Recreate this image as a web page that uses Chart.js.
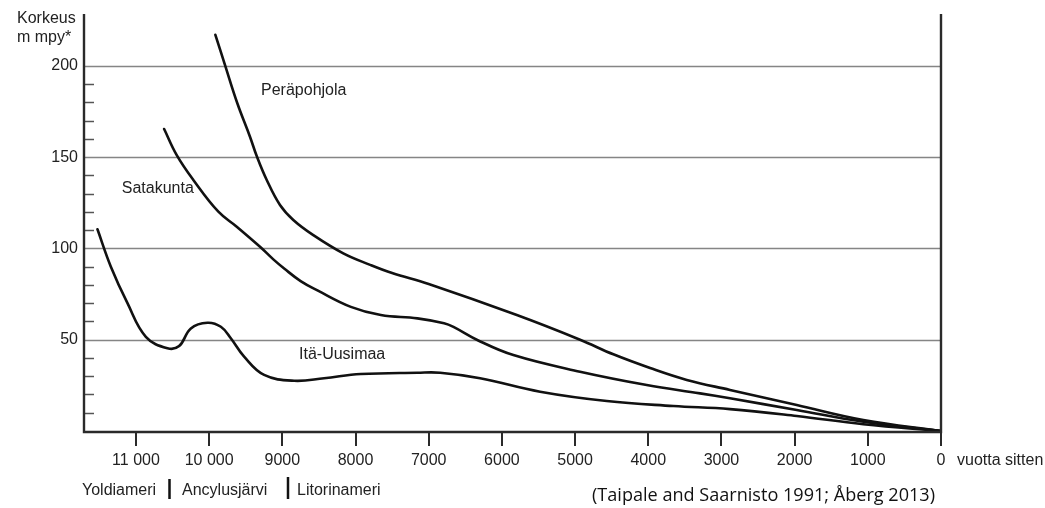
<!DOCTYPE html>
<html>
<head>
<meta charset="utf-8">
<script src="https://cdn.jsdelivr.net/npm/chart.js@4/dist/chart.umd.min.js"></script>
<style>
  html, body { margin: 0; padding: 0; background: #fff; }
  canvas { display: block; }
</style>
</head>
<body>
<canvas id="c" width="1045" height="508"></canvas>
<script>
// ---- Data (years before present, metres above sea level) ----
const periYears   = [9915, 9783, 9615, 9442, 9350, 9213, 9032, 8850, 8577, 8167, 7800, 7500, 7000, 5796, 4932, 4477, 3975, 3474, 2883, 1971, 1061, 0];
const periHeights = [217, 200.4, 179.5, 161.2, 150.6, 137.5, 123.8, 115.6, 107.3, 97.3, 91, 86.5, 80.5, 63.5, 50, 42, 34.5, 28, 22.5, 14.2, 6, 0];

const sataYears   = [10615, 10443, 10216, 9874, 9623, 9305, 9123, 8975, 8750, 8520, 8064, 7654, 7154, 6790, 6662, 6343, 5843, 4932, 4021, 3292, 2883, 1971, 1061, 0];
const sataHeights = [165.4, 151.1, 137.5, 120.1, 111.9, 100.9, 94, 89, 82.1, 77, 68, 63.5, 61.7, 59, 57, 50, 41.6, 32.5, 25.2, 20.6, 17.9, 11.5, 5.1, 0];

const itaYears    = [11526, 11343, 11116, 10865, 10570, 10410, 10250, 10023, 9840, 9704, 9522, 9249, 8839, 8429, 7928, 7154, 6844, 6298, 5478, 4567, 3657, 2883, 1971, 1061, 0];
const itaHeights  = [110.5, 90, 70, 51.6, 45.3, 46.5, 56.2, 59.3, 57.1, 50.8, 40.7, 30.7, 27.5, 28.9, 31.2, 31.9, 31.9, 28.9, 21.5, 16.4, 13.7, 12, 8.2, 3.7, 0];

const seriesNames = ['Peräpohjola', 'Satakunta', 'Itä-Uusimaa'];

const xTickValues = [11000, 10000, 9000, 8000, 7000, 6000, 5000, 4000, 3000, 2000, 1000, 0];
const xTickLabels = ['11 000', '10 000', '9000', '8000', '7000', '6000', '5000', '4000', '3000', '2000', '1000', '0'];
const yMajorValues = [50, 100, 150, 200];
const yMinorValues = [10, 20, 30, 40, 60, 70, 80, 90, 110, 120, 130, 140, 160, 170, 180, 190];

const periods = ['Yoldiameri', 'Ancylusjärvi', 'Litorinameri'];
const yAxisTitle = ['Korkeus', 'm mpy*'];
const xAxisTitle = 'vuotta sitten';
const sourceText = '(Taipale and Saarnisto 1991; Åberg 2013)';

const toPts = (xs, ys) => xs.map((x, i) => ({ x: x, y: ys[i] }));

const FONT = '"Liberation Sans", Arial, sans-serif';

const decor = {
  id: 'decor',
  beforeDatasetsDraw(chart) {
    const { ctx, chartArea: a, scales: { y } } = chart;
    ctx.save();
    ctx.strokeStyle = '#858585';
    ctx.lineWidth = 1.6;
    yMajorValues.forEach(v => {
      const py = Math.round(y.getPixelForValue(v)) + 0.5;
      ctx.beginPath();
      ctx.moveTo(a.left, py);
      ctx.lineTo(a.right, py);
      ctx.stroke();
    });
    ctx.restore();
  },
  afterDatasetsDraw(chart) {
    const { ctx, chartArea: a, scales: { x, y } } = chart;
    ctx.save();
    const bottom = a.bottom + 1;
    // minor ticks (inside)
    ctx.strokeStyle = '#555';
    ctx.lineWidth = 1.5;
    yMinorValues.forEach(v => {
      const py = Math.round(y.getPixelForValue(v)) + 0.5;
      ctx.beginPath();
      ctx.moveTo(a.left, py);
      ctx.lineTo(a.left + 10, py);
      ctx.stroke();
    });
    // axes
    ctx.strokeStyle = '#2a2a2a';
    ctx.lineWidth = 2.4;
    ctx.beginPath();
    ctx.moveTo(a.left, a.top);
    ctx.lineTo(a.left, bottom);
    ctx.lineTo(a.right, bottom);
    ctx.lineTo(a.right, a.top);
    ctx.stroke();
    // x ticks
    ctx.lineWidth = 2;
    xTickValues.forEach(v => {
      const px = Math.round(x.getPixelForValue(v));
      ctx.beginPath();
      ctx.moveTo(px, bottom);
      ctx.lineTo(px, bottom + 14);
      ctx.stroke();
    });
    // tick labels
    ctx.fillStyle = '#222';
    ctx.font = '16px ' + FONT;
    ctx.textBaseline = 'middle';
    ctx.textAlign = 'center';
    xTickValues.forEach((v, i) => {
      ctx.fillText(xTickLabels[i], x.getPixelForValue(v), 461);
    });
    ctx.textAlign = 'left';
    ctx.fillText(xAxisTitle, 957, 461);
    ctx.textAlign = 'right';
    yMajorValues.forEach(v => {
      ctx.fillText(String(v), 78, y.getPixelForValue(v));
    });
    // y title
    ctx.textAlign = 'left';
    ctx.fillText(yAxisTitle[0], 17, 19);
    ctx.fillText(yAxisTitle[1], 17, 38);
    // series labels
    const lab = chart.options.plugins.decor.labels;
    lab.forEach(l => {
      ctx.fillText(l.text, x.getPixelForValue(l.x), y.getPixelForValue(l.y));
    });
    // periods row
    ctx.fillText(periods[0], 82, 491);
    ctx.fillText(periods[1], 182, 491);
    ctx.fillText(periods[2], 297, 491);
    ctx.strokeStyle = '#111';
    ctx.lineWidth = 2.5;
    ctx.beginPath();
    ctx.moveTo(169.5, 479); ctx.lineTo(169.5, 499);
    ctx.moveTo(288, 477); ctx.lineTo(288, 499);
    ctx.stroke();
    // source
    ctx.fillStyle = '#111';
    let fs = 16;
    ctx.font = fs + 'px "Open Sans", sans-serif';
    const w = ctx.measureText(sourceText).width;
    fs = fs * 343 / w;
    ctx.font = fs.toFixed(2) + 'px "Open Sans", sans-serif';
    ctx.textAlign = 'left';
    ctx.fillText(sourceText, 592, 496);
    ctx.restore();
  }
};

const lineStyle = {
  borderColor: '#111',
  borderWidth: 2.6,
  pointRadius: 0,
  fill: false,
  tension: 0.4,
  borderCapStyle: 'round',
  borderJoinStyle: 'round'
};

new Chart(document.getElementById('c'), {
  type: 'line',
  data: {
    datasets: [
      Object.assign({ label: seriesNames[0], data: toPts(periYears, periHeights) }, lineStyle),
      Object.assign({ label: seriesNames[1], data: toPts(sataYears, sataHeights) }, lineStyle),
      Object.assign({ label: seriesNames[2], data: toPts(itaYears, itaHeights) }, lineStyle)
    ]
  },
  options: {
    responsive: false,
    animation: false,
    devicePixelRatio: 1,
    layout: { padding: { left: 84, right: 104, top: 14, bottom: 77 } },
    scales: {
      x: { type: 'linear', reverse: true, min: 0, max: 11710, display: false },
      y: { type: 'linear', min: 0, max: 228.4, display: false }
    },
    plugins: {
      legend: { display: false },
      tooltip: { enabled: false },
      decor: {
        labels: [
          { text: seriesNames[0], x: 9291, y: 186.5 },
          { text: seriesNames[1], x: 11194, y: 133 },
          { text: seriesNames[2], x: 8772, y: 41.6 }
        ]
      }
    }
  },
  plugins: [decor]
});
</script>
</body>
</html>
